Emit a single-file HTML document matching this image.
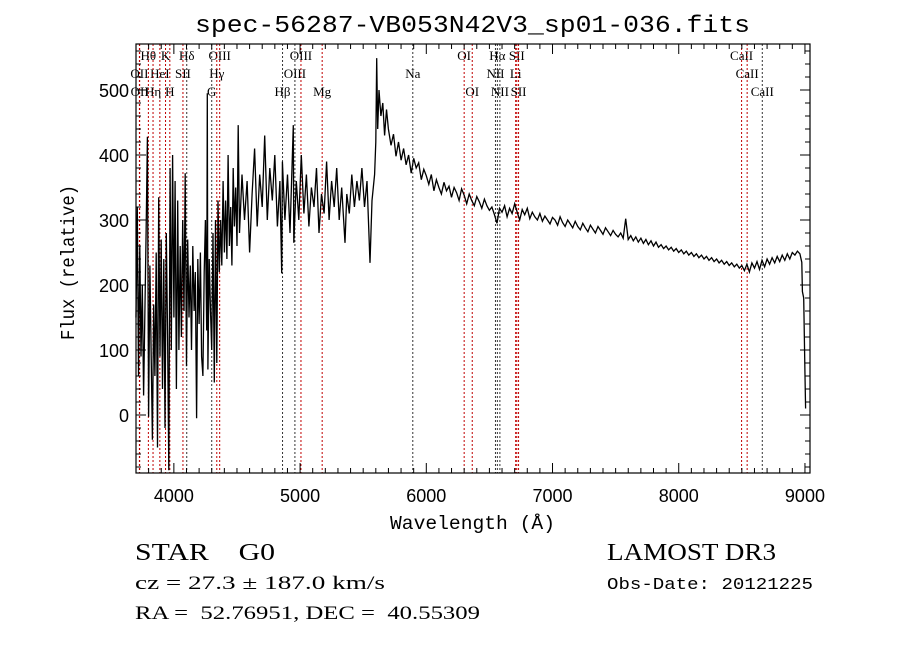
<!DOCTYPE html>
<html><head><meta charset="utf-8"><style>
body{margin:0;background:#fff;width:900px;height:649px;overflow:hidden}
svg{display:block}
.tick{font-family:"Liberation Sans",sans-serif;font-size:18px}
.ser{font-family:"Liberation Serif",serif}
.mono{font-family:"Liberation Mono",monospace}
.lab{font-family:"Liberation Serif",serif;font-size:13px}
</style></head><body>
<svg id="chart" width="900" height="649" viewBox="0 0 900 649" xmlns="http://www.w3.org/2000/svg">
<text x="195" y="32" textLength="555" lengthAdjust="spacingAndGlyphs" class="mono" font-size="24">spec-56287-VB053N42V3_sp01-036.fits</text>
<g id="lines"></g>
<g id="axes"></g>
<path id="spec" fill="none" stroke="#000" stroke-width="1.3"/>
<rect x="136" y="44" width="674" height="429" fill="none" stroke="#000" stroke-width="1.2"/>
<text x="390" y="529" textLength="165" lengthAdjust="spacingAndGlyphs" class="mono" font-size="19">Wavelength (Å)</text>
<text transform="translate(74,340) rotate(-90)" textLength="155" lengthAdjust="spacingAndGlyphs" class="mono" font-size="19">Flux (relative)</text>
<text x="135" y="560" textLength="140" lengthAdjust="spacingAndGlyphs" class="ser" font-size="24">STAR&#160;&#160;&#160;&#160;G0</text>
<text x="135" y="589" textLength="250" lengthAdjust="spacingAndGlyphs" class="ser" font-size="19">cz = 27.3 ± 187.0 km/s</text>
<text x="135" y="619" textLength="345" lengthAdjust="spacingAndGlyphs" class="ser" font-size="19">RA =&#160;&#160;52.76951, DEC =&#160;&#160;40.55309</text>
<text x="607" y="560" textLength="169" lengthAdjust="spacingAndGlyphs" class="ser" font-size="24">LAMOST DR3</text>
<text x="607" y="589" textLength="206" lengthAdjust="spacingAndGlyphs" class="mono" font-size="17">Obs-Date: 20121225</text>
</svg>
<script>
const waveBlue=[3700,3710,3720,3730,3740,3750,3760,3770,3780,3790,3800,3810,3820,3830,3840,3850,3860,3870,3880,3890,3900,3910,3920,3930,3940,3950,3960,3970,3980,3990,4000,4010,4020,4030,4040,4050,4060,4070,4080,4090,4100,4110,4120,4130,4140,4150,4160,4170,4180,4190,4200,4210,4220,4230,4240,4250,4260,4265,4270,4280,4290,4300,4310,4320,4330,4340,4350,4360,4370,4380,4390,4400,4410,4420,4430,4440,4450,4460,4470,4480,4490,4500,4510,4520,4540,4560,4580,4600,4620,4640,4660,4680,4700,4720,4740,4760,4780,4800,4820,4840,4854,4860,4880,4900,4920,4946,4950,4970,4990,5010,5030,5050,5070,5090,5110,5130,5150,5170,5190,5210,5230,5250,5270,5290,5310,5330,5356,5370,5390,5410,5430,5450,5470,5490,5510,5530,5554,5570,5590,5600,5607,5615,5625,5640,5655,5670,5685];
const fluxBlue=[150,320,60,260,90,200,30,150,280,428,-3,230,100,-38,170,60,250,-50,335,90,270,40,240,-20,280,120,-85,380,100,400,150,360,40,330,100,260,120,300,160,372,75,270,150,230,100,260,160,220,-5,240,140,250,90,60,220,300,130,495,70,240,160,100,280,50,300,80,330,220,300,230,360,250,330,240,400,260,320,230,380,290,350,260,446,280,370,300,360,250,340,410,290,370,320,430,300,380,330,400,290,360,218,390,300,370,280,446,265,360,300,400,310,370,290,350,320,380,280,340,310,390,300,360,320,380,300,350,265,340,310,370,320,360,330,380,320,360,234,330,370,420,549,440,500,460,480,430,470];
const redStart=5700, redStep=20;
const fluxRed=[440,415,432,398,420,392,410,385,400,372,395,380,388,362,378,368,
355,370,345,362,350,340,358,345,352,335,350,342,330,348,338,325,340,330,322,336,328,318,332,322,315,
320,308,295,318,312,322,305,318,310,325,312,300,316,308,318,302,312,305,300,310,298,306,300,294,304,
300,292,305,296,290,300,294,288,298,290,285,295,288,282,292,286,280,290,284,278,288,282,276,284,278,
274,280,272,302,270,276,268,274,266,272,264,270,262,268,260,266,258,262,256,260,254,258,252,256,250,
254,248,252,246,250,244,248,242,246,240,244,238,242,236,240,234,238,232,236,230,234,228,232,226,230,
222,232,220,234,226,236,224,238,228,240,232,242,234,244,236,246,238,248,240,250,246,252,248];
const waveTail=[8975,8980,8990,9000,9005];
const fluxTail=[235,190,180,60,10];
const lineNames=["Hθ","K","Hδ","OIII","OIII","OI","Hα","SII","CaII","OII","HeI","SII","Hγ","OIII","Na","NII","Li","CaII","OII","Hη","H","G","Hβ","Mg","OI","NII","SII","CaII"];
const lineWaves=[3798,3934,4102,4363,5007,6300,6563,6717,8498,3727,3889,4072,4340,4959,5893,6548,6708,8542,3729,3835,3968,4300,4861,5175,6364,6583,6731,8662];
const lineRows=[0,0,0,0,0,0,0,0,0,1,1,1,1,1,1,1,1,1,2,2,2,2,2,2,2,2,2,2];
const lineRed=[1,1,0,1,1,1,0,1,1,1,1,1,1,0,0,0,1,1,1,1,1,0,0,1,1,0,1,0];
const xTicks=[4000,5000,6000,7000,8000,9000];
const yTicks=[0,100,200,300,400,500];
const X0=136,X1=810,Y0=44,Y1=473,WMIN=3700,WMAX=9040;
const xs=w=>X0+(w-WMIN)*(X1-X0)/(WMAX-WMIN);
const ys=f=>415-f*0.65;
const NS="http://www.w3.org/2000/svg";
function mk(tag,attrs,parent){const e=document.createElementNS(NS,tag);for(const k in attrs)e.setAttribute(k,attrs[k]);parent.appendChild(e);return e;}
const wave=waveBlue.concat(fluxRed.map((_,i)=>redStart+i*redStep),waveTail);
const flux=fluxBlue.concat(fluxRed,fluxTail);
let d="";wave.forEach((w,i)=>{d+=(i?"L":"M")+xs(w).toFixed(1)+","+Math.max(Y0,Math.min(Y1,ys(flux[i]))).toFixed(1);});
document.getElementById("spec").setAttribute("d",d);
const lg=document.getElementById("lines");
const rowY=[60,78,96];
lineWaves.forEach((w,i)=>{
 const x=xs(w);
 const l=mk("line",{x1:x,x2:x,y1:Y0,y2:Y1,stroke:lineRed[i]?"#c00000":"#333","stroke-width":1,"stroke-dasharray":"2,2"},lg);
 
 
 const t=mk("text",{x:x,y:rowY[lineRows[i]],"text-anchor":"middle",class:"lab"},lg);
 t.textContent=lineNames[i];
 
 
});
const ax=document.getElementById("axes");
for(let w=3800;w<=9000;w+=100){const x=xs(w);const L=(w%1000===0)?10:5;
 mk("path",{d:`M${x},${Y1}v${-L}M${x},${Y0}v${L}`,stroke:"#000","stroke-width":1},ax);}
for(let f=-80;f<=560;f+=20){const y=ys(f);const L=(f%100===0)?10:5;
 mk("path",{d:`M${X0},${y}h${L}M${X1},${y}h${-L}`,stroke:"#000","stroke-width":1},ax);}
xTicks.forEach(v=>{const t=mk("text",{x:xs(v),y:502,"text-anchor":"middle",class:"tick"},ax);t.textContent=v;
 
 });
yTicks.forEach(v=>{const t=mk("text",{x:129,y:ys(v)+7,"text-anchor":"end",class:"tick"},ax);t.textContent=v;
 
 });
</script>
</body></html>
